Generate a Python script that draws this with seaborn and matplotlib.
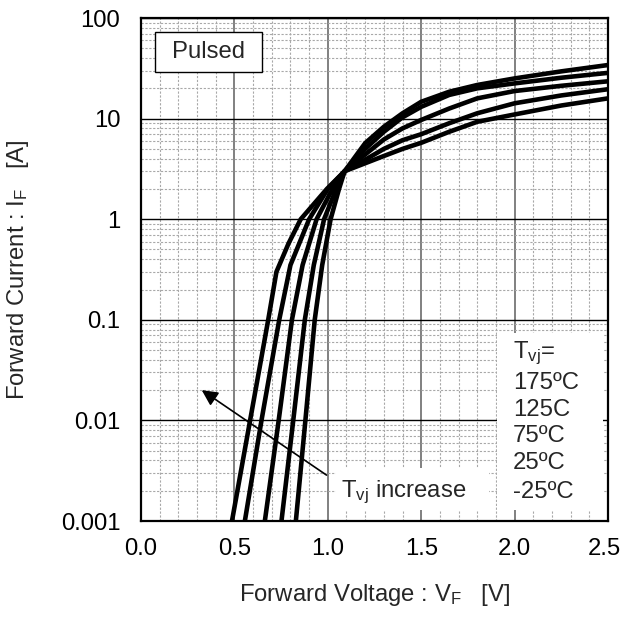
import numpy as np
import pandas as pd
import matplotlib
matplotlib.use('Agg')
import matplotlib.pyplot as plt
import matplotlib.transforms as mtransforms
import seaborn as sns
from matplotlib.patches import Rectangle
from matplotlib.ticker import FixedLocator

# forward characteristics (VF [V], IF [A])
temps = ['-25', '25', '75', '125', '175']
vf_m25 = [0.829, 0.88, 0.93, 0.97, 1.015, 1.06, 1.09, 1.2, 1.3, 1.4, 1.5, 1.65, 1.8, 2.0, 2.25, 2.5]
if_m25 = [0.001, 0.01, 0.1, 0.35, 1.0, 2.0, 3.0, 5.7, 8.3, 11.3, 14.7, 18.5, 21.6, 25.1, 29.5, 34.1]
vf_25 = [0.752, 0.815, 0.877, 0.925, 0.98, 1.045, 1.09, 1.2, 1.3, 1.4, 1.5, 1.65, 1.8, 2.0, 2.25, 2.5]
if_25 = [0.001, 0.01, 0.1, 0.35, 1.0, 2.0, 3.0, 5.0, 7.4, 10.3, 13.1, 17.2, 20.0, 22.4, 25.5, 28.5]
vf_75 = [0.663, 0.737, 0.808, 0.865, 0.94, 1.025, 1.09, 1.2, 1.3, 1.4, 1.5, 1.65, 1.8, 2.0, 2.25, 2.5]
if_75 = [0.001, 0.01, 0.1, 0.35, 1.0, 2.0, 3.0, 4.4, 6.2, 8.0, 9.7, 12.6, 15.9, 18.8, 21.2, 23.5]
vf_125 = [0.556, 0.645, 0.74, 0.80, 0.90, 1.0, 1.09, 1.2, 1.3, 1.4, 1.5, 1.65, 1.8, 2.0, 2.25, 2.5]
if_125 = [0.001, 0.01, 0.1, 0.35, 1.0, 2.0, 3.0, 3.9, 5.0, 6.1, 7.0, 9.0, 11.3, 14.2, 17.0, 19.6]
vf_175 = [0.487, 0.584, 0.681, 0.725, 0.79, 0.855, 0.995, 1.09, 1.2, 1.3, 1.4, 1.5, 1.65, 1.8, 2.0, 2.25, 2.5]
if_175 = [0.001, 0.01, 0.1, 0.3, 0.575, 1.0, 2.0, 3.0, 3.6, 4.25, 5.0, 5.75, 7.4, 9.3, 11.0, 13.5, 15.9]

xticks = [0.0, 0.5, 1.0, 1.5, 2.0, 2.5]
xticklabels = ['0.0', '0.5', '1.0', '1.5', '2.0', '2.5']
yticks = [0.001, 0.01, 0.1, 1, 10, 100]
yticklabels = ['0.001', '0.01', '0.1', '1', '10', '100']
legend_lines = ['T$_{\\mathrm{vj}}$=', '175ºC', '125C', '75ºC', '25ºC', '-25ºC']

sns.set_style('white')
plt.rcParams['font.family'] = ['Liberation Sans', 'DejaVu Sans']
plt.rcParams['mathtext.fontset'] = 'custom'
plt.rcParams['mathtext.rm'] = 'Liberation Sans'
plt.rcParams['mathtext.it'] = 'Liberation Sans:italic'
fs = 17.2

curves = [(vf_m25, if_m25), (vf_25, if_25), (vf_75, if_75), (vf_125, if_125), (vf_175, if_175)]
df = pd.concat([pd.DataFrame({'VF': v, 'IF': i, 'Tvj': t}) for t, (v, i) in zip(temps, curves)],
               ignore_index=True)

fig = plt.figure(figsize=(6.22, 6.37), dpi=100)
ax = fig.add_axes([0.2267, 0.1821, 0.7508, 0.7896])

sns.lineplot(data=df, x='VF', y='IF', units='Tvj', estimator=None, sort=False,
             color='k', lw=3.3, ax=ax, legend=False, zorder=4)

ax.set_yscale('log')
ax.set_xlim(0, 2.5)
ax.set_ylim(0.001, 100)

ax.set_xticks(xticks)
ax.set_xticklabels(xticklabels)
ax.set_xticks(np.arange(0, 2.51, 0.1), minor=True)
ax.set_yticks(yticks)
ax.set_yticklabels(yticklabels)
ax.yaxis.set_minor_locator(FixedLocator([k * 10.0 ** e for e in range(-3, 2) for k in range(2, 10)]))
ax.yaxis.set_minor_formatter(plt.NullFormatter())

ax.grid(which='minor', axis='both', color='#a8a8a8', ls=(0, (2, 1.5)), lw=0.8)
ax.grid(which='major', axis='x', color='#808080', lw=1.4)
ax.grid(which='major', axis='y', color='k', lw=1.0)

ax.tick_params(which='both', direction='in', top=False, right=False, labelsize=fs, colors='k')
ax.tick_params(which='major', length=7, width=1.2)
ax.tick_params(which='minor', length=3.5, width=0.8)
ax.tick_params(axis='y', pad=15)
ax.tick_params(axis='x', pad=12)
for s in ax.spines.values():
    s.set_linewidth(1.6)
    s.set_color('k')

# keep the last x tick label inside the canvas
last = ax.get_xticklabels()[-1]
last.set_transform(last.get_transform() + mtransforms.ScaledTranslation(-4 / 100, 0, fig.dpi_scale_trans))

ax.set_xlabel('Forward Voltage : V$_{\\mathrm{F}}$   [V]', fontsize=fs)
ax.set_ylabel('Forward Current : I$_{\\mathrm{F}}$   [A]', fontsize=fs)
ax.xaxis.set_label_coords(0.5, -0.121)
ax.yaxis.set_label_coords(-0.2355, 0.5)

# "Pulsed" box
ax.add_patch(Rectangle((0.030, 0.893), 0.229, 0.0795, transform=ax.transAxes,
                       facecolor='white', edgecolor='k', lw=1.0, zorder=5))
ax.text(0.144, 0.932, 'Pulsed', transform=ax.transAxes, ha='center', va='center',
        fontsize=fs, zorder=6)

# temperature list box
ax.add_patch(Rectangle((0.762, 0.0219), 0.227, 0.352, transform=ax.transAxes,
                       facecolor='white', edgecolor='none', zorder=5))
for txt, yy in zip(legend_lines, [0.333, 0.274, 0.221, 0.169, 0.115, 0.058]):
    ax.text(0.797, yy, txt, transform=ax.transAxes, ha='left', va='center',
            fontsize=fs, zorder=6)

# arrow + "Tvj increase"
ax.annotate('', xy=(0.325, 0.02), xytext=(0.993, 0.00286),
            arrowprops=dict(arrowstyle='-|>', color='k', lw=1.2, mutation_scale=24,
                            shrinkA=0, shrinkB=0), zorder=6)
ax.add_patch(Rectangle((0.4175, 0.0219), 0.3276, 0.0835, transform=ax.transAxes,
                       facecolor='white', edgecolor='none', zorder=5))
ax.text(0.563, 0.058, 'T$_{\\mathrm{vj}}$ increase', transform=ax.transAxes,
        ha='center', va='center', fontsize=fs, zorder=6)

fig.savefig('out.png', dpi=100)
